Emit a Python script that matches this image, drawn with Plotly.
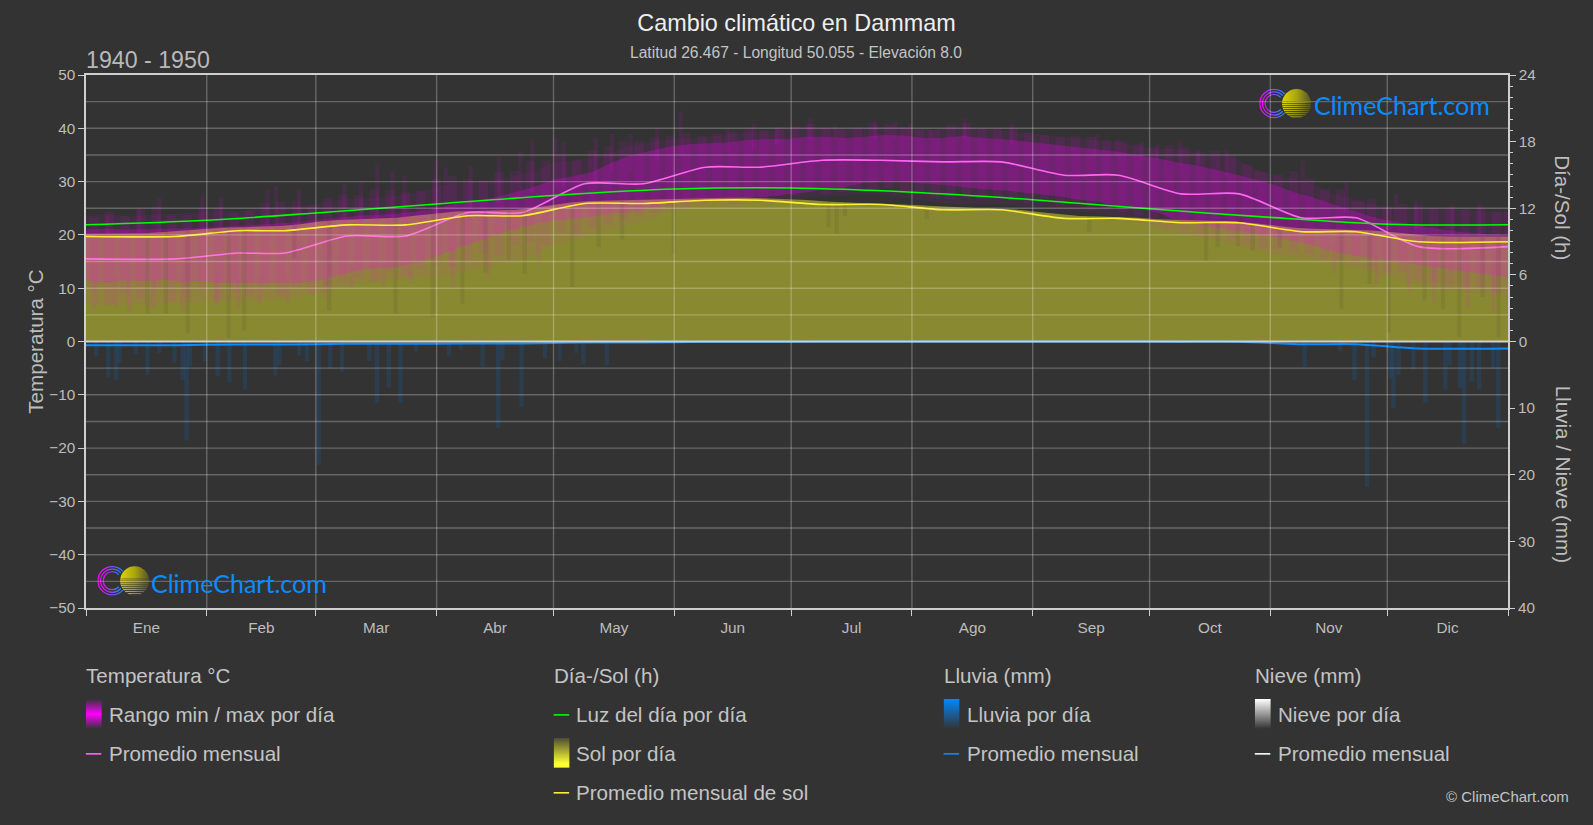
"""
Cambio climático en Dammam, 1940 - 1950.
Temperature, sun and rain on one plot with three vertical scales.
"""
import base64
import math

import plotly.graph_objects as go

months = ["Ene", "Feb", "Mar", "Abr", "May", "Jun", "Jul", "Ago", "Sep", "Oct", "Nov", "Dic"]
month_starts = [0, 31, 59, 90, 120, 151, 181, 212, 243, 273, 304, 334, 365]

# monthly averages
temp_monthly = [15.5, 16.6, 19.8, 24.2, 29.6, 32.7, 34.0, 33.7, 31.2, 27.7, 23.2, 17.8]
sun_monthly = [9.46, 9.98, 10.5, 11.33, 12.43, 12.72, 12.34, 11.86, 11.09, 10.7, 9.89, 8.98]
rain_monthly = [0.55, 0.45, 0.35, 0.3, 0.15, 0.05, 0, 0, 0, 0.02, 0.4, 1.05]

# daylight hours at the start of each month (plus mid december)
daylight_day = [0, 31, 59, 90, 120, 151, 181, 212, 243, 273, 304, 334, 350, 365]
daylight_hours = [10.51, 10.92, 11.57, 12.38, 13.15, 13.73, 13.82, 13.44, 12.77, 11.95, 11.18, 10.56, 10.49, 10.51]

# temperature envelope, one reading every 5 days
band_day = list(range(0, 365, 5)) + [365]
temp_top_outer = [
    23.5, 23.9, 23.6, 23.7, 23.8, 24, 24.3, 24.6, 24.5, 25, 25.3, 25.4, 26, 26.6, 26.8, 27, 27.4, 28, 29,
    29.7, 30, 30.4, 31, 32, 33.6, 33.8, 34.6, 35.4, 36.8, 37.4, 38, 38.2, 38.4, 38.9, 39.4, 39.4, 39.8,
    40.2, 40, 39.8, 40, 40.4, 40.2, 39.6, 39.8, 40.4, 39.8, 39.6, 39.2, 38.8, 38.4, 38, 37.7, 37.4, 36.6,
    36, 36.2, 35.4, 35, 34.4, 32.4, 31, 30.6, 29.4, 27.8, 26.8, 25.8, 25.2, 25, 24.8, 24.8, 24.6, 24.4, 24.2,
]
temp_top_core = [
    21, 21.1, 21, 21, 21.1, 21.2, 21.3, 21.5, 21.7, 22, 22.2, 22.4, 22.8, 23.2, 23.6, 23.8, 24, 24.4, 25,
    25.8, 26.4, 27, 28, 29, 30.4, 31, 31.8, 33.6, 35, 35.8, 36.6, 37, 37.2, 37.4, 37.8, 38, 38,
    38.4, 38.4, 38.2, 38.4, 38.8, 38.6, 38.2, 38.2, 38.6, 38.2, 38, 37.6, 37.2, 36.8, 36.4, 36, 35.6, 35,
    34.4, 33.6, 33, 32.2, 31.4, 30.4, 29.4, 28, 27, 25.8, 24.6, 23.4, 22.6, 22, 21.4, 20.8, 20.4, 20.1, 19.9,
]
temp_bot_core = [
    11.5, 11, 11.5, 11.3, 11.6, 11.2, 11.4, 11, 11, 11, 11, 11, 11.5, 12.4, 13.4, 13.8, 14, 14.8, 16,
    17.4, 18.6, 20, 21, 22, 22.7, 23, 23.4, 24, 24.4, 25, 25.8, 26.2, 26.6, 26.8, 27, 27.2, 27.6,
    28, 28.6, 29, 29.8, 30, 30, 29.6, 29.4, 29, 28.6, 28.4, 28, 27.6, 27.2, 26.6, 26.2, 25.4, 25,
    24.2, 22.8, 22, 21.4, 20.8, 20.2, 19.6, 18.8, 18, 17, 16.2, 15.6, 15, 14.6, 14, 13.6, 13, 12.5, 12,
]
temp_bot_outer = [
    7, 6.8, 7, 6.8, 7, 7.2, 7.6, 7.4, 7.8, 7.6, 8, 8.4, 9, 10, 11, 11.4, 11.6, 12, 12,
    12.6, 13.6, 14.4, 15.2, 16, 18, 19, 20, 21, 22, 23, 24.4, 25, 25.4, 25.6, 25.8, 26, 26.4,
    27, 27.2, 27.4, 27.6, 27.4, 27, 26.4, 26, 25.8, 25.8, 25.8, 25.4, 25, 24.8, 24.4, 24, 23.4, 22.4,
    21, 20.4, 19.6, 19, 18, 17, 16.2, 15.8, 15.2, 14.6, 14, 13, 12, 11, 10.2, 9.6, 9.2, 8.8, 8.3,
]

# the frayed edges of the band, read every 4 days
fringe_day = list(range(2, 365, 4))
fringe_top = [
    23.2, 24.4, 23.4, 24.8, 25.4, 23.6, 23.8, 25.0, 25.2, 24.2, 24.6, 26.0, 26.2, 26.4, 25.4, 26.8, 27.6, 27.4,
    28.6, 28.4, 28.0, 28.2, 30.6, 31.0, 30.6, 30.2, 31.8, 32.0, 33.8, 34.0, 35.0, 34.2, 35.8, 36.6, 37.6, 37.6,
    38.2, 38.6, 39.2, 38.6, 39.0, 39.4, 40.0, 39.6, 40.2, 40.4, 40.8, 40.0, 39.8, 40.2, 41.0, 40.8, 40.2, 39.8,
    39.6, 40.6, 41.0, 40.0, 40.0, 40.0, 39.2, 38.8, 38.4, 38.6, 38.4, 37.8, 37.6, 37.0, 36.4, 36.8, 36.4, 35.4,
    35.8, 35.0, 33.2, 31.8, 31.4, 32.0, 30.6, 28.6, 28.6, 26.4, 26.8, 25.4, 25.8, 25.6, 25.0, 25.2, 24.8, 25.2, 24.4,
]
fringe_bot = [
    9.6, 7.0, 9.0, 8.0, 10, 7.6, 8.4, 9.6, 7.8, 9.4, 8.6, 9.8, 8.6, 10.0, 9.0, 10.4, 11.4, 12.0,
    11.0, 13.0, 12.2, 13.6, 14.4, 14.0, 15.0, 16.6, 16.2, 18, 18.6, 18.2, 20.6, 20.0, 21.4, 22.2, 23.0, 23.6,
    24.2, 25.2, 25.0, 25.8, 26.2, 26.0, 26.6, 26.6, 27.2, 27.4, 28.2, 27.6, 28.0, 28.6, 28.4, 28.8, 27.8, 27.6,
    27.0, 26.6, 27.0, 26.6, 26.8, 26.4, 26, 26.2, 25.4, 25.8, 24.6, 24.8, 24.2, 23.6, 22.6, 21.6, 21.0, 20.4,
    20.2, 19.4, 18.6, 17.6, 17.4, 17.0, 16.4, 15.6, 15.4, 14.8, 14.0, 12.8, 13.0, 11.6, 11.2, 10.6, 10.2, 10.0, 9.4,
]

# single days that stick out above the envelope
spike_day = [
    5.6, 13.7, 18.8, 29.9, 34.6, 46.6, 48.8, 54.7, 66.3, 70.6, 74.8, 78.7, 81.7, 89.8, 92.3, 98.7, 106,
    111.5, 114.5, 120.5, 122.6, 130.8, 135, 139.8, 146.6, 152.6, 164.6, 171.4, 177.4, 185.8, 192.3, 202.5,
    207.7, 211.5, 216.6, 225.6, 237.6, 259.4, 264.5, 271, 275, 280.7, 285.4, 292.7, 300.4, 312.3, 323.5,
    327.7, 336.3, 341.4, 350.8, 357.7, 364.5,
]
spike_high = [
    23.6, 25.2, 27, 27.4, 27, 28.6, 29.2, 28.6, 29.6, 29.9, 33.3, 31.8, 31.1, 34, 32.7, 33, 34.6,
    35.5, 37.7, 38.3, 37.4, 38.3, 38.9, 38.9, 39.9, 43.3, 39.9, 40.8, 40.2, 41.8, 40.5, 41.4,
    41.1, 40.8, 39.9, 41.8, 40.8, 38.9, 38, 37.4, 37, 37.7, 35.8, 36.1, 32, 33.9, 29.9,
    26.4, 27.7, 26.4, 25.5, 25.8, 24.6,
]
spike_low = [
    20, 20, 20, 21, 21, 21, 21, 22, 22, 22, 23, 23, 23, 24, 24, 25, 26,
    27, 28, 29, 29, 30, 32, 32, 34, 35, 36, 36, 37, 38, 38, 38,
    38, 38, 38, 38, 37, 35, 35, 34, 34, 33, 33, 31, 29, 27, 24,
    23, 22, 21, 20, 20, 20,
]

# cold days reaching below the envelope
cold_day = [2.2, 7.7, 11.1, 17.3, 24.8, 33.4, 39.2, 44.5, 51.7, 61.5, 68.2, 76.3, 83.4, 94.1, 103.3, 116.2, 320.4, 331.2, 339.6, 346.1, 354.7, 361.3]
cold_low = [6, 6.4, 5.6, 6.2, 5.8, 6.8, 6.4, 7, 7.2, 8, 10, 10.4, 11, 10, 12, 14.6, 12.6, 10.6, 9.4, 7.4, 6.4, 5.4]
cold_high = [12, 12, 12, 12, 12, 12, 12, 12, 12, 12, 14, 15, 15, 18, 20, 22, 18, 16, 15, 15, 14, 13]

# sun hours, upper edge of the filled area every 5 days
sun_top = [
    9.7, 9.7, 9.7, 9.75, 9.85, 10.0, 10.15, 10.25, 10.3, 10.35, 10.4, 10.55, 10.8, 10.95, 11.0, 11.05, 11.15,
    11.35, 11.55, 11.7, 11.75, 11.8, 11.85, 12.05, 12.3, 12.55, 12.65, 12.7, 12.75, 12.8, 12.85, 12.9, 12.9,
    12.95, 12.95, 12.9, 12.8, 12.75, 12.6, 12.5, 12.45, 12.4, 12.35, 12.25, 12.15, 12.05, 12.0, 11.95, 11.85,
    11.65, 11.45, 11.3, 11.25, 11.2, 11.15, 11.0, 10.95, 10.9, 10.85, 10.8, 10.65, 10.45, 10.25, 10.15, 10.1,
    10.05, 10.0, 9.85, 9.65, 9.5, 9.45, 9.45, 9.45, 9.45,
]

# overcast days, dark streaks through the sun fill
dull_day = [
    15.8, 20.5, 26.1, 36.6, 40.6, 53.5, 62.4, 79.5, 89, 96.6, 102.5, 108.5, 112.6, 124.8, 131.6, 137.6, 150.9,
    190.6, 192.7, 194.8, 215.8, 257.5, 287.5, 290.5, 295.7, 299.5, 306.4, 322.2, 329.5, 334.4, 343.6, 348.3,
    352.5, 358.5, 362.6,
]
dull_low = [
    2.5, 2.5, 0.7, 0.3, 1, 7.5, 2.8, 2.5, 2.2, 3.4, 6.2, 7.3, 6.1, 4.9, 8.5, 9.2, 7.9,
    10.3, 9.7, 11.3, 11, 9.9, 7.3, 8.5, 8.6, 8.2, 8.5, 2.9, 5.2, 0.8, 3.7, 2.9,
    0.4, 4, 0.4,
]
dull_high = [
    9.8, 9.9, 10, 10.2, 10.3, 10.5, 10.9, 11.1, 11.5, 11.7, 11.8, 11.8, 11.9, 12.5, 12.6, 12.7, 12.8,
    12.6, 12.5, 12.5, 12.3, 11.3, 10.9, 10.8, 10.8, 10.7, 10.4, 10.1, 10.0, 9.8, 9.5, 9.4,
    9.4, 9.4, 9.4,
]

# rain per day (mm)
rain_day = [
    2.6, 5.7, 7.7, 8.6, 12.8, 15.8, 18.8, 22.7, 24.8, 25.8, 26.7, 30.6, 33.8, 36.8, 40.8, 48.6, 49.6, 54.7,
    56.7, 59.7, 62.7, 65.7, 72.7, 74.7, 77.7, 80.7, 84.7, 93.2, 96.2, 101.8, 105.8, 106.9, 111.8, 117.8,
    121.6, 125.8, 127.7, 133.7, 312.8, 321.9, 325.6, 328.8, 330.5, 334.8, 335.6, 336.9, 340.7, 343.8, 348.9,
    350, 352.7, 353.7, 355.7, 357.6, 361.2, 362.5,
]
rain_mm = [
    2.2, 5.4, 5.8, 3.2, 1.8, 5, 1.7, 3.2, 5.8, 14.8, 3.7, 3, 5.2, 6.1, 7.2, 5.1, 3.5, 2.1,
    3, 18.5, 4, 4.5, 2.9, 9.2, 6.9, 9.2, 1.5, 2.1, 1.2, 3.8, 13, 2.8, 9.8, 2.5,
    2.9, 1.7, 3.4, 3.5, 3.8, 1.5, 5.8, 21.8, 2.3, 5.5, 10, 5, 4.2, 9.2, 7.2,
    3.5, 7, 15.4, 6, 7.2, 4, 13,
]

temp_ticks = list(range(-50, 51, 10))
temp_grid = list(range(-45, 50, 5))
sun_ticks = [0, 6, 12, 18, 24]
sun_minor = [h for h in range(1, 24) if h % 6]
rain_ticks = [10, 20, 30, 40]

BG = "#333333"
FONT = "Liberation Sans"
TICK = "#bdbdbd"
TEXT = "#c4c4c4"
AXIS = "#cfcfcf"
GRID = "rgba(255,255,255,0.25)"
RANGE_COLOR = "240,0,240"
PLOT_L, PLOT_R, PLOT_T, PLOT_B = 85.5, 1508, 74.5, 608


def px_x(px):
    return (px - PLOT_L) / (PLOT_R - PLOT_L)


def px_y(py):
    return (PLOT_B - py) / (PLOT_B - PLOT_T)


def svg_uri(svg):
    return "data:image/svg+xml;base64," + base64.b64encode(svg.encode()).decode()


def monthly_knots(values):
    # each month is a plateau, the spline does the step between them
    xs, ys = [], []
    for i, v in enumerate(values):
        xs += [month_starts[i] + 8, month_starts[i + 1] - 8]
        ys += [v, v]
    xs[0] = 0
    xs[-1] = 365
    return xs, ys


def gradient_swatch(stops):
    parts = "".join(f'<stop offset="{o}" stop-color="{c}" stop-opacity="{a}"/>' for o, c, a in stops)
    return svg_uri(
        '<svg xmlns="http://www.w3.org/2000/svg" width="16" height="30">'
        f'<defs><linearGradient id="g" x1="0" y1="0" x2="0" y2="1">{parts}</linearGradient></defs>'
        '<rect width="16" height="30" fill="url(#g)"/></svg>'
    )


def logo_svg():
    arcs = ""
    for r in (14.2, 11.6, 9.0):
        dx, dy = r * math.cos(math.radians(42)), r * math.sin(math.radians(42))
        arcs += f'<path d="M{15 + dx:.2f} {15 - dy:.2f} A{r} {r} 0 1 0 {15 + dx:.2f} {15 + dy:.2f}" fill="none" stroke="url(#ring)" stroke-width="1.2"/>'
    stripes = ""
    y, gap = 13.0, 0.5
    while y < 30:
        stripes += f'<rect x="20" y="{y:.1f}" width="36" height="{gap:.2f}" fill="#333333"/>'
        y += 1.9
        gap = min(gap + 0.07, 1.3)
    return svg_uri(
        '<svg xmlns="http://www.w3.org/2000/svg" width="54" height="30" viewBox="0 0 54 30"><defs>'
        '<linearGradient id="ring" x1="0" y1="0" x2="1" y2="0"><stop offset="0" stop-color="#ff00ff"/>'
        '<stop offset="1" stop-color="#1e88ff"/></linearGradient>'
        '<linearGradient id="ball" x1="0" y1="0" x2="1" y2="0"><stop offset="0" stop-color="#e8e000"/>'
        '<stop offset="0.5" stop-color="#a8a210"/><stop offset="1" stop-color="#3c3c2c"/></linearGradient>'
        '<clipPath id="c"><circle cx="37.5" cy="15" r="14.5"/></clipPath></defs>'
        f'{arcs}<g clip-path="url(#c)"><rect x="20" y="0" width="36" height="30" fill="url(#ball)"/>{stripes}</g></svg>'
    )


fig = go.Figure()

# main subplot sits at the bottom of the stack, so the sun fill goes first
fig.add_trace(go.Scatter(
    x=band_day, y=sun_top, yaxis="y", mode="lines", line=dict(width=0),
    fill="tozeroy", fillcolor="rgba(255,255,51,0.36)", hoverinfo="skip",
))

# temperature range
fig.add_trace(go.Scatter(
    x=band_day + band_day[::-1], y=temp_top_outer + temp_bot_outer[::-1], yaxis="y2", mode="lines",
    line=dict(width=0), fill="toself", fillcolor=f"rgba({RANGE_COLOR},0.07)", hoverinfo="skip",
))
fig.add_trace(go.Scatter(
    x=band_day + band_day[::-1], y=temp_top_core + temp_bot_core[::-1], yaxis="y2", mode="lines",
    line=dict(width=0), fill="toself", fillcolor=f"rgba({RANGE_COLOR},0.27)", hoverinfo="skip",
))
fig.add_trace(go.Bar(
    x=fringe_day, y=[h - l for h, l in zip(fringe_top, fringe_bot)], base=fringe_bot, yaxis="y2", width=2.4,
    marker=dict(color=f"rgba({RANGE_COLOR},0.09)", line_width=0), hoverinfo="skip",
))
fig.add_trace(go.Bar(
    x=spike_day, y=[h - l for h, l in zip(spike_high, spike_low)], base=spike_low, yaxis="y2", width=1.1,
    marker=dict(color=f"rgba({RANGE_COLOR},0.1)", line_width=0), hoverinfo="skip",
))
fig.add_trace(go.Bar(
    x=cold_day, y=[h - l for h, l in zip(cold_high, cold_low)], base=cold_low, yaxis="y2", width=1.1,
    marker=dict(color=f"rgba({RANGE_COLOR},0.1)", line_width=0), hoverinfo="skip",
))
kx, ky = monthly_knots(temp_monthly)
fig.add_trace(go.Scatter(
    x=kx, y=ky, yaxis="y2", mode="lines", line=dict(color="#ff66f0", width=1.6, shape="spline", smoothing=0.7),
    name="Promedio mensual",
))

# rain
fig.add_trace(go.Bar(
    x=rain_day, y=rain_mm, yaxis="y3", width=1.1,
    marker=dict(color="rgba(0,136,255,0.14)", line_width=0), hoverinfo="skip",
))
kx, ky = monthly_knots(rain_monthly)
fig.add_trace(go.Scatter(
    x=kx, y=ky, yaxis="y3", mode="lines", line=dict(color="#0a8cff", width=2, shape="spline", smoothing=0.7),
    name="Promedio mensual",
))

# sun lines and streaks have to end up on top of the temperature band
fig.add_trace(go.Bar(
    x=dull_day, y=[h - l for h, l in zip(dull_high, dull_low)], base=dull_low, yaxis="y4", width=1.1,
    marker=dict(color="rgba(51,51,51,0.12)", line_width=0), hoverinfo="skip",
))
# thin second sun layer, lifts the pink where sun and temperature overlap
fig.add_trace(go.Scatter(
    x=band_day, y=sun_top, yaxis="y4", mode="lines", line=dict(width=0),
    fill="tozeroy", fillcolor="rgba(255,255,51,0.1)", hoverinfo="skip",
))
fig.add_trace(go.Scatter(
    x=daylight_day, y=daylight_hours, yaxis="y4", mode="lines",
    line=dict(color="#00ff00", width=1.6, shape="spline"), name="Luz del día por día",
))
kx, ky = monthly_knots(sun_monthly)
fig.add_trace(go.Scatter(
    x=kx, y=ky, yaxis="y4", mode="lines", line=dict(color="#ffee33", width=1.6, shape="spline", smoothing=0.7),
    name="Promedio mensual de sol",
))

# grid goes over the fills in the original, so shapes instead of axis grid
shapes = []
for v in temp_grid:
    if v != 0:
        shapes.append(dict(type="line", xref="paper", yref="y2", x0=0, x1=1, y0=v, y1=v, line=dict(color=GRID, width=1.4), layer="above"))
for d in month_starts[1:-1]:
    shapes.append(dict(type="line", xref="x", yref="paper", x0=d, x1=d, y0=0, y1=1, line=dict(color=GRID, width=1.4), layer="above"))
shapes.append(dict(type="line", xref="paper", yref="y2", x0=0, x1=1, y0=0, y1=0, line=dict(color=AXIS, width=2), layer="above"))


def legend_line(left, y, color):
    shapes.append(dict(type="line", xref="paper", yref="paper", x0=px_x(left), x1=px_x(left + 15.5),
                       y0=px_y(y), y1=px_y(y), line=dict(color=color, width=1.6)))


annotations = []


def label(text, px, py, size=20.6, color=TEXT, anchor="left", angle=0, family=FONT):
    annotations.append(dict(text=text, x=px_x(px), y=px_y(py), xref="paper", yref="paper", showarrow=False,
                            xanchor=anchor, yanchor="middle", textangle=angle, borderpad=0, borderwidth=0,
                            font=dict(family=family, size=size, color=color)))


label("Latitud 26.467 - Longitud 50.055 - Elevación 8.0", 796, 52, size=15.6, anchor="center")
label("1940 - 1950", 85.5, 59, size=23.2, color="#b9b9b9")
label("Día-/Sol (h)", 1563, 207.75, angle=90, color=TICK, anchor="center")
label("Lluvia / Nieve (mm)", 1563, 474.5, angle=90, color=TICK, anchor="center")
label("© ClimeChart.com", 1569, 796.7, size=15, anchor="right")

# legend columns
rows = [676, 715, 754, 793]
label("Temperatura °C", 85.5, rows[0])
label("Rango min / max por día", 108.8, rows[1])
label("Promedio mensual", 108.8, rows[2])
legend_line(85.3, rows[2], "#ff66f0")

label("Día-/Sol (h)", 553.3, rows[0])
label("Luz del día por día", 576, rows[1])
legend_line(553.3, rows[1], "#00ff00")
label("Sol por día", 576, rows[2])
label("Promedio mensual de sol", 576, rows[3])
legend_line(553.3, rows[3], "#ffee33")

label("Lluvia (mm)", 943.4, rows[0])
label("Lluvia por día", 966.5, rows[1])
label("Promedio mensual", 966.5, rows[2])
legend_line(943.4, rows[2], "#0a8cff")

label("Nieve (mm)", 1254.7, rows[0])
label("Nieve por día", 1278, rows[1])
label("Promedio mensual", 1278, rows[2])
legend_line(1254.7, rows[2], "#ffffff")

# logo text stays real text, the mark is a small svg
label("ClimeChart.com", 1314, 105, size=25, color="#0a8cff", family="Lato")
label("ClimeChart.com", 151, 582.7, size=25, color="#0a8cff", family="Lato")

images = []
logo = logo_svg()
for left, top in [(1259, 88), (96.7, 565.7)]:
    images.append(dict(source=logo, xref="paper", yref="paper", x=px_x(left), y=px_y(top), sizex=54 / (PLOT_R - PLOT_L),
                       sizey=30 / (PLOT_B - PLOT_T), xanchor="left", yanchor="top", sizing="stretch", layer="above"))

swatches = [
    (85.3, 699, [(0, "#ff00ff", 0), (0.5, "#ff00ff", 1), (1, "#ff00ff", 0)]),
    (553.3, 738, [(0, "#ffff33", 0.12), (0.85, "#ffff33", 1), (1, "#ffff33", 1)]),
    (943.4, 699, [(0, "#0088ff", 1), (1, "#0088ff", 0)]),
    (1254.7, 699, [(0, "#ffffff", 1), (1, "#ffffff", 0)]),
]
for left, top, stops in swatches:
    images.append(dict(source=gradient_swatch(stops), xref="paper", yref="paper", x=px_x(left), y=px_y(top),
                       sizex=16 / (PLOT_R - PLOT_L), sizey=30 / (PLOT_B - PLOT_T), xanchor="left", yanchor="top",
                       sizing="stretch", layer="above"))

tickfont = dict(family=FONT, size=15.3, color=TICK)
fig.update_layout(
    width=1593,
    height=825,
    margin=dict(l=PLOT_L, r=1593 - PLOT_R, t=PLOT_T, b=825 - PLOT_B, pad=0),
    paper_bgcolor=BG,
    plot_bgcolor=BG,
    showlegend=False,
    barmode="overlay",
    hovermode=False,
    title=dict(text="Cambio climático en Dammam", x=0.5, xanchor="center", y=1 - 22.5 / 825, yanchor="middle",
               font=dict(family=FONT, size=23.4, color="#eeeeee")),
    xaxis=dict(
        range=[0, 365], showgrid=False, zeroline=False, showline=True, mirror=True, linecolor=AXIS, linewidth=1.5,
        tickmode="array",
        tickvals=[(month_starts[i] + month_starts[i + 1]) / 2 for i in range(12)],
        ticktext=months, ticks="", tickfont=tickfont, ticklabelstandoff=5,
        minor=dict(tickmode="array", tickvals=month_starts, ticks="outside", ticklen=6, tickcolor=AXIS, tickwidth=1.2, showgrid=False),
    ),
    yaxis=dict(
        range=[-24, 24], side="right", showgrid=False, zeroline=False, showline=True, linecolor=AXIS, linewidth=1.5,
        tickmode="array", tickvals=sun_ticks, ticks="outside", ticklen=6, tickcolor=AXIS, tickfont=tickfont,
        minor=dict(tickmode="array", tickvals=sun_minor, ticks="outside", ticklen=3, tickcolor=AXIS, showgrid=False),
    ),
    yaxis2=dict(
        range=[-50, 50], side="left", overlaying="y", showgrid=False, zeroline=False, showline=True, linecolor=AXIS,
        linewidth=1.5, tickmode="array", tickvals=temp_ticks, ticks="outside", ticklen=6, tickcolor=AXIS,
        tickfont=tickfont, title=dict(text="Temperatura °C", font=dict(family=FONT, size=20.6, color=TICK), standoff=0),
    ),
    yaxis3=dict(
        range=[40, -40], side="right", overlaying="y", showgrid=False, zeroline=False, tickmode="array",
        tickvals=rain_ticks, ticks="outside", ticklen=6, tickcolor=AXIS, tickfont=tickfont,
    ),
    yaxis4=dict(range=[-24, 24], overlaying="y", visible=False),
    shapes=shapes,
    annotations=annotations,
    images=images,
)

fig.write_html(
    "out.html",
    config=dict(displayModeBar=False),
    post_script="document.body.style.margin='0';document.body.style.overflow='hidden';",
)
